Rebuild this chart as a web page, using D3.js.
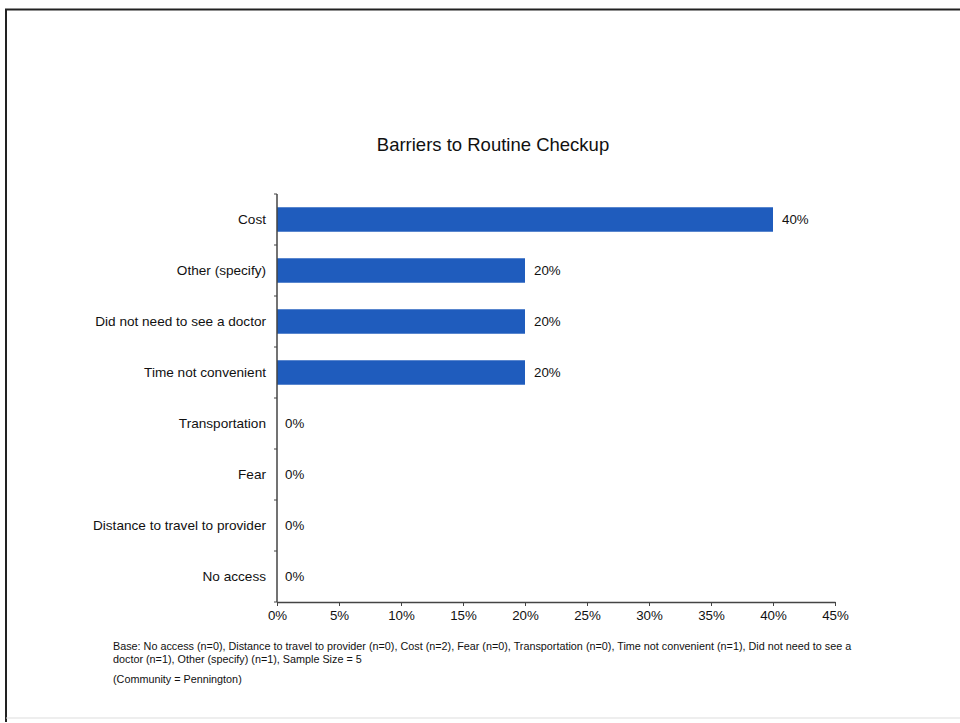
<!DOCTYPE html>
<html><head><meta charset="utf-8">
<script src="https://cdn.jsdelivr.net/npm/d3@7"></script>
<style>body{margin:0;background:#fff}svg{display:block;font-family:"Liberation Sans",Arial,sans-serif}</style>
</head><body>
<svg id="c" width="960" height="723"></svg>
<script>
const categories = ["Cost","Other (specify)","Did not need to see a doctor","Time not convenient","Transportation","Fear","Distance to travel to provider","No access"];
const values = [40,20,20,20,0,0,0,0];
const xTicks = [0,5,10,15,20,25,30,35,40,45];
const title = "Barriers to Routine Checkup";
const footLines = ["Base: No access (n=0), Distance to travel to provider (n=0), Cost (n=2), Fear (n=0), Transportation (n=0), Time not convenient (n=1), Did not need to see a",
"doctor (n=1), Other (specify) (n=1), Sample Size = 5"];
const community = "(Community = Pennington)";

const svg = d3.select("#c");
// frame
svg.append("path").attr("d","M6,722 L6,9.5 L960,9.5").attr("fill","none").attr("stroke","#222").attr("stroke-width",2);
svg.append("line").attr("x1",6).attr("x2",960).attr("y1",718).attr("y2",718).attr("stroke","#ddd").attr("stroke-width",1);

const x = d3.scaleLinear().domain([0,45]).range([277,835]);
const y = d3.scaleBand().domain(categories).range([194,602]).paddingInner(0.52).paddingOuter(0.26);

svg.append("text").attr("x",493).attr("y",151).attr("text-anchor","middle").attr("font-size",18.5).attr("fill","#111").text(title);

svg.selectAll("rect.bar").data(categories).enter().append("rect")
  .attr("x",x(0)).attr("y",d=>y(d)).attr("width",(d,i)=>x(values[i])-x(0)).attr("height",y.bandwidth())
  .attr("fill","#1f5cbd");

svg.selectAll("text.val").data(categories).enter().append("text")
  .attr("x",(d,i)=>x(values[i])+ (values[i]>0?9:8)).attr("y",d=>y(d)+y.bandwidth()/2+4.5)
  .attr("font-size",13.3).attr("fill","#111").text((d,i)=>values[i]+"%");

// y axis
const gy = svg.append("g").attr("transform",`translate(${x(0)},0)`);
gy.append("line").attr("y1",194).attr("y2",602).attr("stroke","#444").attr("stroke-width",1.5);
d3.range(0,9).forEach(i=>{
  gy.append("line").attr("x1",-3).attr("x2",0).attr("y1",194+i*(408/8)).attr("y2",194+i*(408/8)).attr("stroke","#444");
});
gy.selectAll("text").data(categories).enter().append("text")
  .attr("x",-11).attr("y",d=>y(d)+y.bandwidth()/2+4.5).attr("text-anchor","end")
  .attr("font-size",13.6).attr("fill","#111").text(d=>d);

// x axis
const xAxis = d3.axisBottom(x).tickValues(xTicks).tickFormat(d=>d+"%").tickSize(4).tickSizeOuter(0);
const gx = svg.append("g").attr("transform","translate(0,602)").call(xAxis);
gx.select(".domain").attr("stroke","#444").attr("stroke-width",1.5);
gx.selectAll(".tick line").attr("stroke","#444");
gx.selectAll(".tick text").attr("font-size",13.3).attr("fill","#111").attr("font-family","Liberation Sans, Arial, sans-serif").attr("dy","0.8em");

svg.selectAll("text.foot").data(footLines).enter().append("text")
  .attr("x",113).attr("y",(d,i)=>650+i*12.5).attr("font-size",10.8).attr("fill","#111").text(d=>d);
svg.append("text").attr("x",113).attr("y",683).attr("font-size",10.8).attr("fill","#111").text(community);
</script>
</body></html>
